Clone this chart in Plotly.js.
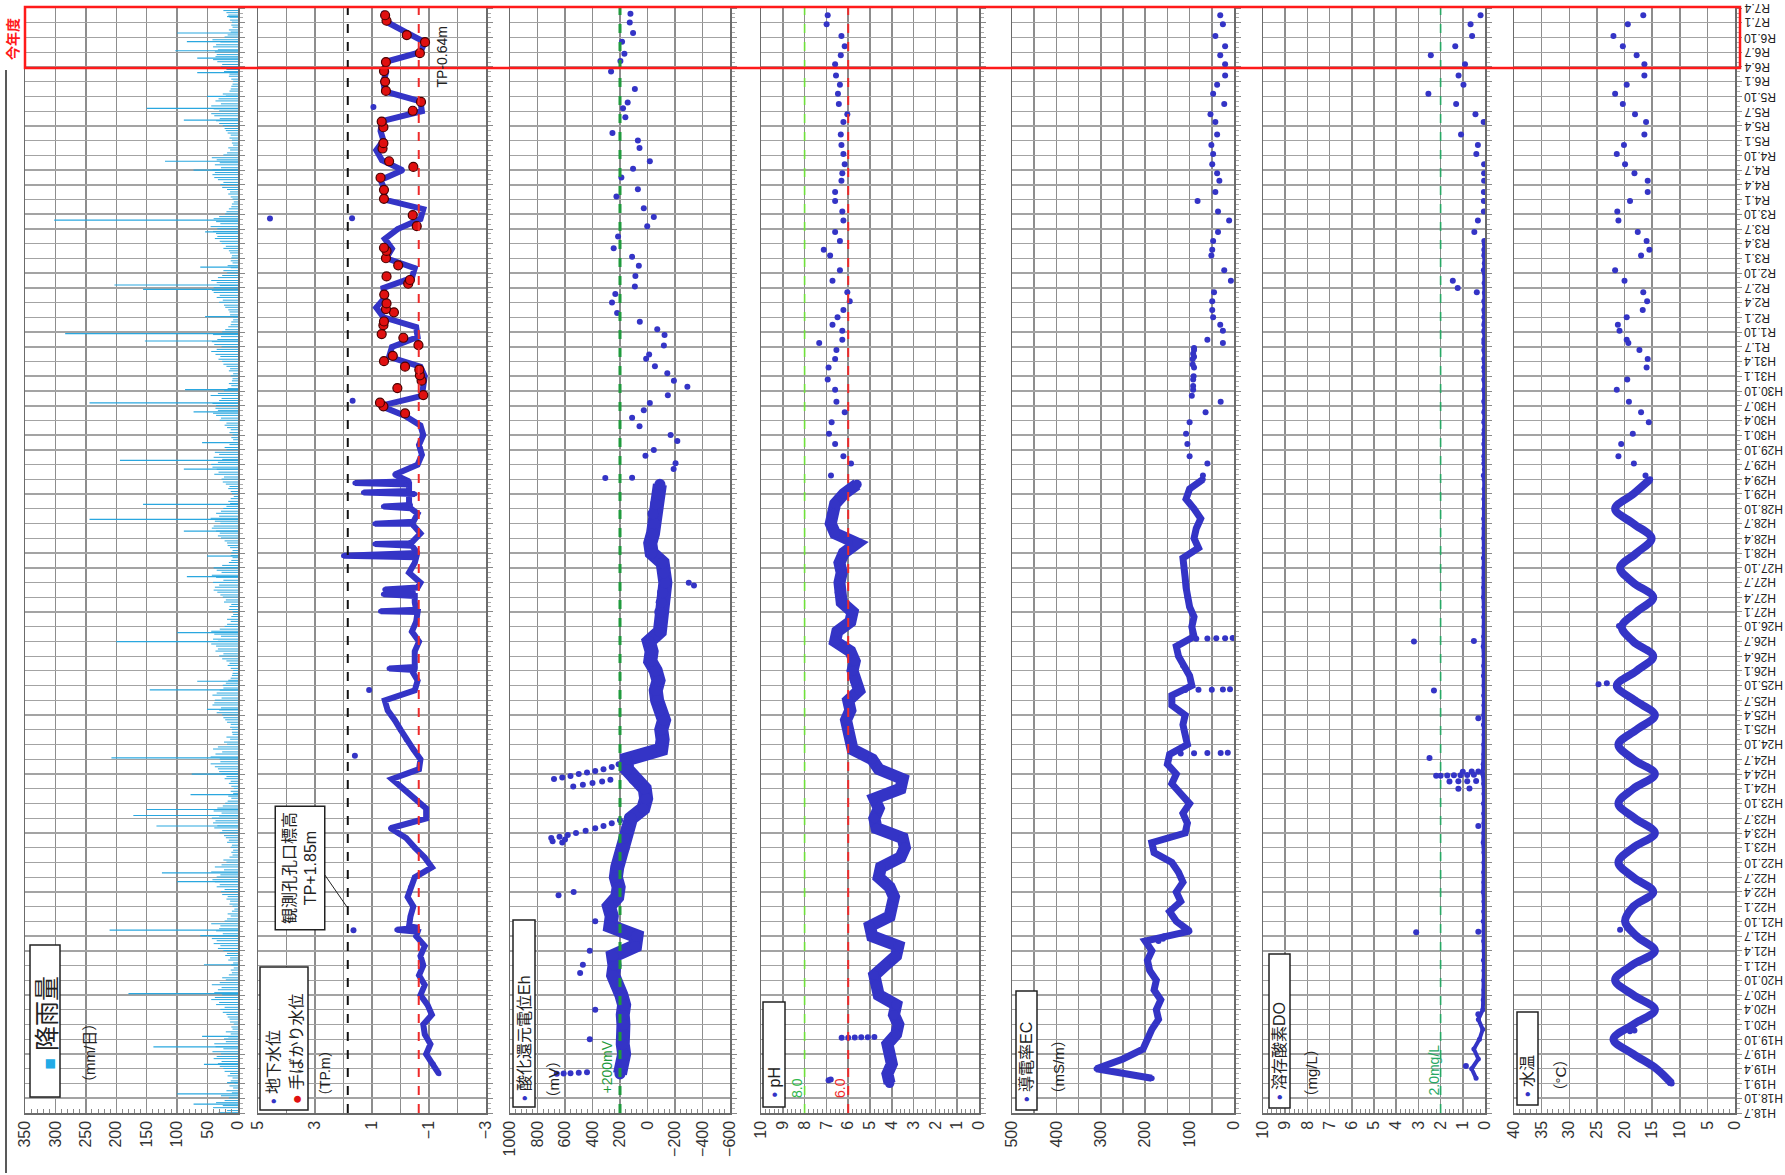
<!DOCTYPE html>
<html>
<head>
<meta charset="utf-8">
<script src="https://cdn.plot.ly/plotly-3.0.1.min.js"></script>
<style>
  html, body { margin: 0; padding: 0; background: #fff; }
  #chart { width: 1785px; height: 1175px; }
</style>
</head>
<body>
<div id="chart"></div>
<script>
// ---- time axis labels (every 3 months, H18.7 .. R7.4) ----
var timeLabels = [
  'H18.7','H18.10',
  'H19.1','H19.4','H19.7','H19.10','H20.1','H20.4','H20.7','H20.10',
  'H21.1','H21.4','H21.7','H21.10','H22.1','H22.4','H22.7','H22.10',
  'H23.1','H23.4','H23.7','H23.10','H24.1','H24.4','H24.7','H24.10',
  'H25.1','H25.4','H25.7','H25.10','H26.1','H26.4','H26.7','H26.10',
  'H27.1','H27.4','H27.7','H27.10','H28.1','H28.4','H28.7','H28.10',
  'H29.1','H29.4','H29.7','H29.10','H30.1','H30.4','H30.7','H30.10',
  'H31.1','H31.4','R1.7','R1.10',
  'R2.1','R2.4','R2.7','R2.10','R3.1','R3.4','R3.7','R3.10',
  'R4.1','R4.4','R4.7','R4.10','R5.1','R5.4','R5.7','R5.10',
  'R6.1','R6.4','R6.7','R6.10','R7.1','R7.4'
];

// ---- rainfall (mm/day): half-monthly background from 2006-07, and the big peaks ----
var rainBg = [
  32,18,41,25,36,22,15,28,10,19,8,14,6,12,9,17,13,22,24,30,33,27,40,35,
  28,42,24,37,39,20,23,16,12,20,9,11,7,13,14,17,19,25,29,22,36,31,44,38,
  26,39,33,27,43,30,20,26,15,10,12,7,11,8,16,13,21,18,24,33,29,40,35,43,
  40,25,36,31,29,44,22,18,12,17,10,6,9,14,13,19,17,26,28,22,35,30,38,42,
  35,29,44,23,38,27,19,24,14,9,11,8,12,10,18,15,20,23,30,26,39,34,41,37,
  43,31,27,40,34,25,21,17,11,16,8,12,7,11,15,12,22,19,27,31,33,38,45,29,
  30,45,37,26,41,33,18,23,13,19,9,10,10,13,12,18,21,24,26,35,31,28,42,39,
  38,27,42,35,30,24,25,20,16,12,10,9,8,12,17,14,19,26,31,24,37,33,36,44,
  33,41,28,39,44,30,22,18,12,18,11,8,9,15,14,11,23,20,25,29,34,40,38,31,
  41,24,36,43,27,35,20,26,15,11,9,12,11,9,13,17,18,22,28,33,30,36,43,40,
  29,38,45,31,36,28,24,19,13,16,12,7,10,12,16,14,20,25,27,23,39,32,35,42,
  44,33,26,40,31,38,19,22,14,10,8,11,9,14,12,18,22,19,30,28,36,41,33,37,
  36,42,31,27,45,33,23,17,11,15,10,9,12,8,15,13,19,24,26,32,29,37,44,35,
  27,39,43,34,28,41,26,21,16,12,11,8,8,13,14,16,21,23,31,25,35,30,40,43,
  40,30,35,44,33,26,18,24,12,17,9,12,11,10,13,15,24,20,27,30,38,34,36,41,
  34,45,29,36,40,31,21,19,15,11,10,7,9,12,16,13,18,26,29,24,33,39,42,38,
  42,28,38,30,35,43,24,18,13,16,8,10,10,14,12,17,20,22,25,31,36,30,39,44,
  31,40,44,28,37,32,20,25,14,12,11,9,8,11,15,14,23,19,28,26,34,41,37,35,
  38,33,41,36,29,42,22,17,12,15,9,11,10,13,14,16,19,24
];
var rainPeakDates = [
  '2006-08-25','2006-10-28','2007-01-05','2007-04-28','2007-08-15','2007-10-19','2008-07-10',
  '2009-01-05','2009-07-05','2009-08-07','2010-06-04','2010-07-28','2011-05-15','2011-07-19',
  '2011-08-25','2011-11-25','2012-04-01','2012-07-10','2013-05-07','2013-09-04','2013-10-28',
  '2014-07-01','2014-08-25','2015-08-07','2015-10-01','2015-12-13','2016-05-15','2016-07-28',
  '2016-10-28','2017-06-04','2017-07-28','2017-11-15','2018-05-25','2018-07-19','2018-10-10',
  '2019-08-07','2019-09-22','2020-01-05','2020-06-22','2020-07-19','2020-11-07','2021-06-13',
  '2021-08-25','2022-07-01','2022-08-25','2023-05-07','2023-07-19','2023-10-01','2024-02-25',
  '2024-05-25','2024-07-10','2024-09-04','2024-10-28','2025-02-07'
];
var rainPeaks = [
  73,100,18,56,139,59,180,
  56,62,211,100,125,134,172,
  150,78,76,208,51,145,67,
  200,100,84,40,51,89,244,
  156,89,194,59,73,244,87,
  153,284,54,156,203,62,54,
  302,73,120,89,150,51,67,
  67,103,84,100,18
];

// ---- groundwater level (TP.m), every 2 months from 2007-03 ----
var gwLevel = [
  -1.35,-1.15,-0.9,-1.05,-0.85,-0.8,-1.1,-0.95,-0.7,-0.85,
  -0.65,-0.8,-0.7,-0.85,-0.55,-0.3,-0.35,-0.45,-0.25,-0.35,
  -0.5,-1.1,-0.85,-0.5,-0.2,0.35,-0.9,-0.9,-0.5,-0.1,
  0.3,-0.65,-0.7,-0.45,-0.2,0.0,0.2,0.45,0.55,-0.5,
  -0.6,-0.4,-0.5,-0.5,-0.65,-0.4,-0.55,-0.6,-0.5,-0.45,
  -0.7,-0.3,-0.5,-0.6,-0.3,-0.7,-0.4,-0.6,-0.3,-0.5,
  -0.2,0.2,-0.6,-0.75,-0.65,-0.8,-0.7,-0.15,0.7,-0.75,
  -0.8,-0.85,-0.7,0.4,0.3,-0.6,-0.55,0.6,0.85,0.55,
  0.6,-0.4,-0.5,0.5,0.3,0.55,0.1,-0.7,-0.8,0.6,
  0.55,0.7,-0.07,0.65,0.85,0.6,0.7,0.65,-0.75,-0.7,
  0.55,0.6,0.5,0.55,-0.7,-0.85,-0.2,0.45,0.6
];
// short rises of the level between the regular readings
var gwRiseDates = [
  '2009-07-28','2009-08-10','2009-08-22',
  '2014-01-05','2014-01-15','2014-01-25',
  '2014-12-25','2015-01-05','2015-01-15',
  '2015-04-10','2015-04-20','2015-05-20','2015-06-01',
  '2015-12-05','2015-12-15','2015-12-25',
  '2016-02-15','2016-02-25','2016-03-07',
  '2016-06-20','2016-07-01','2016-07-12',
  '2016-10-05','2016-10-15','2016-10-25',
  '2016-12-30','2017-01-10','2017-01-20',
  '2017-02-28','2017-03-10','2017-03-20'
];
var gwRise = [
  -0.6,0.13,-0.6,
  -0.5,0.4,-0.5,
  -0.55,0.7,-0.55,
  -0.5,0.6,0.55,-0.6,
  -0.55,2.0,-0.55,
  -0.4,0.9,-0.4,
  -0.45,0.9,-0.45,
  -0.35,0.6,-0.35,
  -0.3,1.3,-0.3,
  -0.3,1.6,-0.3
];
var gwOddDates = ['2009-08-07','2012-07-24','2013-09-04','2018-08-01','2021-09-04','2021-09-06','2023-07-28'];
var gwOdd = [1.65,1.6,1.1,1.68,4.58,1.7,0.95];
// manual (hand) readings
var handDates = [
  '2018-05-15','2018-06-28','2018-07-21','2018-09-06','2018-10-19','2018-12-04','2019-01-06',
  '2019-02-10','2019-03-01','2019-04-04','2019-05-07','2019-07-13','2019-08-27','2019-09-19',
  '2019-11-13','2019-12-06','2020-02-01','2020-02-21','2020-03-27','2020-05-21','2020-07-27',
  '2020-08-19','2020-09-10','2020-11-18','2021-01-01','2021-02-15','2021-03-07','2021-07-19',
  '2021-09-25','2022-01-04','2022-03-01','2022-05-15','2022-07-21','2022-08-25','2022-11-12',
  '2022-12-15','2023-03-24','2023-04-28','2023-07-04','2023-08-28','2023-11-04','2024-01-01',
  '2024-03-06','2024-05-01','2024-06-25','2024-09-01','2024-10-15','2025-01-12','2025-02-15'
];
var handLevel = [
  -0.16,0.60,0.72,-0.80,0.11,-0.74,-0.68,
  -0.66,-0.16,0.58,0.27,-0.63,-0.10,0.66,
  0.60,0.58,0.23,0.51,0.49,0.57,-0.27,
  -0.33,0.49,0.08,0.51,0.49,0.58,-0.57,
  -0.43,0.58,0.58,0.70,-0.45,0.40,0.63,
  0.60,0.60,0.66,-0.43,-0.72,0.51,0.54,
  0.58,0.51,-0.68,-0.86,-0.22,0.49,0.54
];

// ---- oxidation-reduction potential Eh (mV), every 2 months from 2007-03 ----
var ehDense = [
  200,180,170,180,170,175,180,170,190,230,
  250,240,250,90,80,270,260,280,220,210,
  230,220,200,170,170,150,120,30,10,20,
  100,150,150,-100,-110,-100,-120,-90,-70,-60,
  -80,-60,-20,-30,-10,-90,-100,-90,-100,-110,
  -130,-120,-110,-30,-20,-40,-50,-40,-60,-80,
  -90
];
var ehOddDates = ['2007-03-01','2007-03-03','2007-03-05','2007-03-08','2007-03-10','2007-10-01','2008-04-01',
  '2008-11-15','2009-01-05','2009-04-01','2009-10-01','2010-03-12','2010-04-01','2015-06-13','2015-07-01',
  '2011-02-01','2011-02-10','2011-02-20','2011-03-01','2011-03-10','2011-03-20','2011-04-01','2011-04-15',
  '2011-05-01','2011-05-15','2011-06-01','2011-06-20','2011-07-05',
  '2012-01-15','2012-01-25','2012-02-05','2012-02-15','2012-02-25',
  '2012-03-01','2012-03-10','2012-03-20','2012-04-01','2012-04-10','2012-04-20','2012-05-01','2012-05-15','2012-06-01'];
var ehOdd = [660,610,560,500,440,420,380,490,470,420,380,647,537,-338,-300,
  620,690,600,700,640,580,520,450,380,320,260,200,150,
  540,470,400,330,270,
  680,620,560,500,440,380,320,260,210];
var ehSpotDates = [
  '2017-04-10','2017-04-12','2017-06-04','2017-07-10','2017-08-25','2017-10-01','2017-11-25',
  '2018-01-01','2018-02-25','2018-04-19','2018-06-04','2018-07-19','2018-09-04','2018-10-28',
  '2018-12-04','2019-01-19','2019-03-04','2019-04-19','2019-05-16','2019-07-10','2019-09-13',
  '2019-10-19','2019-12-04','2020-01-28','2020-04-01','2020-05-25','2020-07-10','2020-09-13',
  '2020-11-16','2021-01-10','2021-03-04','2021-05-16','2021-07-19','2021-09-13','2021-11-07',
  '2022-01-19','2022-03-04','2022-05-16','2022-07-10','2022-08-25','2022-11-16','2023-01-01',
  '2023-02-16','2023-05-25','2023-07-19','2023-08-25','2023-11-16','2024-03-04','2024-05-07',
  '2024-06-22','2024-09-04','2024-10-28','2025-01-01','2025-02-25'
];
var ehSpot = [
  307,112,-190,-204,15,-46,-217,
  -168,58,112,27,-17,-148,-290,
  -192,-144,-54,10,-12,-119,-124,
  -71,56,221,258,234,92,88,
  63,112,246,214,2,-46,27,
  226,70,190,105,-17,58,70,
  255,161,178,144,92,265,197,
  168,185,105,129,124
];

// ---- pH, every 2 months from 2007-01 ----
var phDense = [
  4.1,4.2,4.0,4.1,4.2,3.8,3.7,3.9,3.8,4.6,
  4.7,4.8,4.3,3.8,3.7,4.9,5.0,4.1,4.0,3.9,
  4.1,4.6,4.5,3.6,3.4,3.5,4.7,4.8,4.6,4.8,
  3.6,3.5,4.6,4.9,5.8,5.9,6.0,6.1,5.9,6.0,
  5.5,5.7,5.8,5.7,5.9,6.6,6.5,5.9,5.8,6.3,
  6.4,6.4,6.3,6.4,6.2,5.6,6.6,6.8,6.7,6.6,
  6.2,5.6
];
var phOddDates = ['2007-01-20','2007-01-25','2007-10-10','2007-10-11','2007-10-12','2007-10-13','2007-10-14','2007-10-15'];
var phOdd = [6.9,6.8,6.3,6.0,5.7,5.4,5.1,4.8];

// ---- electric conductivity EC (mS/m), every 2 months from 2007-02 ----
var ecDense = [
  185,310,250,205,195,185,170,175,165,180,
  175,190,195,185,200,100,130,145,120,130,
  115,125,140,180,185,110,105,115,100,120,
  140,130,150,145,105,110,115,110,140,140,
  95,100,115,125,130,90,95,90,100,105,
  108,110,112,115,80,90,85,75,90,108,
  100,70
];
var ecOddDates = ['2009-06-01','2009-06-15','2009-07-01',
  '2012-08-07','2012-08-08','2012-08-09','2012-08-10','2012-08-11',
  '2013-09-04','2013-09-05','2013-09-06','2013-09-07','2013-09-08',
  '2014-07-19','2014-07-20','2014-07-21','2014-07-22','2014-07-23',
  '2018-09-01','2018-11-01','2019-01-01','2019-03-15','2019-05-01','2019-05-20','2019-06-25'];
var ecOdd = [170,160,157, 120,90,60,30,14, 110,80,50,25,9, 85,60,40,20,3, 95,92,91,93,90,92,90];

// ---- dissolved oxygen DO (mg/L), every 2 months from 2007-02 ----
var doDense = [
  0.4,0.6,0.3,0.5,0.25,0.1,0.3,0.1,0.08,0.05,
  0.06,0.05,0.07,0.05,0.06,0.05,0.08,0.06,0.05,0.07,
  0.05,0.06,0.05,0.05,0.08,0.06,0.05,0.06,0.07,0.05,
  0.06,0.1,0.08,0.05,0.06,0.05,0.07,0.06,0.05,0.06,
  0.05,0.07,0.06,0.05,0.08,0.06,0.05,0.06,0.05,0.07,
  0.06,0.05,0.06,0.07,0.05,0.06,0.05,0.06,0.05,0.05,
  0.04,0.04,0.03,0.04,0.03,0.03,0.04,0.03,0.03,0.04,
  0.03,0.03,0.04,0.03,0.03,0.03,0.04,0.03,0.03,0.03,
  0.03,0.04,0.03,0.03,0.03,0.03
];
var doOddDates = ['2007-04-18','2008-03-04','2009-07-26','2009-07-28','2011-05-15',
  '2012-01-01','2012-01-02','2012-02-15','2012-02-16','2012-02-17','2012-02-18',
  '2012-03-21','2012-03-22','2012-03-23','2012-03-24','2012-03-25','2012-03-26','2012-03-27',
  '2012-04-15','2012-04-16','2012-04-17','2012-07-09','2013-03-12','2013-09-01',
  '2014-07-01','2014-07-05','2020-07-01'];
var doOdd = [0.86,0.3,3.1,0.3,0.3, 1.2,0.7, 1.6,1.2,0.8,0.4, 2.2,2.0,1.7,1.4,1.1,0.8,0.5,
  1.0,0.6,0.3, 2.5,0.3,2.3, 3.2,0.5,1.23];

// ---- water temperature (deg C), every 3 months from 2007-01 ----
var tempDense = [
  11.5,14.2,18.4,22.0,18.4,14.5,18.4,21.7,18.7,14.5,
  17.8,19.9,18.4,14.8,18.4,21.1,18.4,14.5,18.1,21.1,
  18.4,14.5,18.4,21.1,17.8,14.5,18.1,21.4,17.8,14.8,
  18.4,20.5,17.8,14.8,18.4,20.8,17.8,15.1,18.4,21.7,
  18.4,15.4
];
var tempOddDates = ['2007-11-20','2007-11-25','2009-08-10','2009-08-20','2013-10-10','2013-10-15','2014-10-05'];
var tempOdd = [19.0,18.2,20.8,19.5,24.7,23.2,21.0];

// ---- spot sampling after the logger period (shared visit dates) ----
var visitDates = [
  '2017-04-26','2017-07-09','2017-08-23','2017-11-07','2018-01-09','2018-03-21','2018-05-23',
  '2018-07-26','2018-10-09','2018-12-12','2019-02-23','2019-04-18','2019-06-12','2019-07-26',
  '2019-08-15','2019-10-09','2019-11-15','2020-01-01','2020-02-15','2020-04-09','2020-06-04',
  '2020-08-15','2020-10-18','2021-01-18','2021-02-23','2021-04-18','2021-06-12','2021-08-23',
  '2021-10-18','2021-12-21','2022-02-15','2022-04-26','2022-06-12','2022-08-07','2022-10-09',
  '2022-12-04','2023-02-07','2023-04-26','2023-06-12','2023-08-15','2023-10-18','2023-12-12',
  '2024-02-07','2024-04-18','2024-06-12','2024-08-07','2024-10-09','2024-12-21','2025-02-15'
];
var phSpot = [
  6.79,5.87,6.22,6.6,6.88,6.76,6.16,6.54,6.6,6.94,
  6.9,6.6,6.54,7.33,6.27,6.27,6.72,6.49,6.22,5.93,
  6.04,6.72,6.38,6.83,7.12,6.38,6.6,6.22,6.27,6.6,
  6.6,6.31,6.27,6.16,6.22,6.31,6.34,6.22,6.04,6.43,
  6.47,6.38,6.56,6.6,6.34,6.16,6.31,6.99,6.94
];
var ecSpot = [
  70,60,100,105,108,100,64,30,92,92,
  90,93,90,25,60,25,31,47,49,49,
  45,7,22,51,49,47,36,11,36,82,
  42,33,38,49,47,51,38,42,53,22,
  47,38,20,20,31,20,42,25,31
];
var doSpot = [
  0.05,0.03,0.03,0.03,0.03,0.03,0.03,0.03,0.03,0.03,
  0.03,0.03,0.03,0.03,0.03,0.03,0.03,0.03,0.03,0.03,
  0.37,1.45,0.05,0.03,0.03,0.03,0.48,0.32,0.05,0.05,
  0.05,0.04,0.04,0.04,0.39,0.32,1.08,0.06,0.43,1.3,
  2.55,0.97,1.19,0.9,2.44,1.34,0.58,0.65,0.2
];
var tempSpot = [
  16.2,18.3,21.1,20.6,18.5,15.6,17.0,19.2,21.4,19.5,
  16.0,15.8,17.3,19.3,19.6,20.9,21.2,19.6,16.7,15.9,
  16.6,20.0,21.7,17.0,15.5,16.0,17.6,21.1,21.3,19.0,
  15.8,15.8,18.2,19.9,21.4,20.1,16.4,16.1,18.1,20.3,
  21.7,19.6,16.4,16.4,17.8,20.3,22.0,19.4,16.6
];

// reference levels
var wellTop = 1.85, gwRef = -0.64, ehRef = 200, phHi = 8.0, phLo = 6.0, doRef = 2.0;

// ---------------------------------------------------------------
var W = 1785, H = 1175;
function px(v) { return v / W; }
function py(v) { return 1 - v / H; }
function pad(n) { return (n < 10 ? '0' : '') + n; }
// dates every `step` months starting at y0-m0
function monthSeq(y0, m0, step, n) {
  var out = [];
  for (var i = 0; i < n; i++) {
    var t = (m0 - 1) + i * step;
    out.push((y0 + Math.floor(t / 12)) + '-' + pad(t % 12 + 1) + '-01');
  }
  return out;
}
// half-monthly dates for the rainfall background
function halfMonthSeq(y0, m0, n) {
  var out = [];
  for (var i = 0; i < n; i++) {
    var t = (m0 - 1) + Math.floor(i / 2);
    out.push((y0 + Math.floor(t / 12)) + '-' + pad(t % 12 + 1) + (i % 2 ? '-16' : '-03'));
  }
  return out;
}
// horizontal strokes from zero to value at each date
function strokes(dates, vals) {
  var x = [], y = [];
  for (var i = 0; i < dates.length; i++) {
    x.push(0, vals[i], null);
    y.push(dates[i], dates[i], null);
  }
  return { x: x, y: y };
}
// merge two dated series into one, in time order
function merge(d1, v1, d2, v2) {
  var rows = [];
  d1.forEach(function (d, i) { rows.push([d, v1[i]]); });
  d2.forEach(function (d, i) { rows.push([d, v2[i]]); });
  rows.sort(function (a, b) { return a[0] < b[0] ? -1 : a[0] > b[0] ? 1 : 0; });
  return { d: rows.map(function (r) { return r[0]; }), v: rows.map(function (r) { return r[1]; }) };
}

var BLUE = '#3434c6';
var yDomain = [py(1113), py(8)];
var tickDates = monthSeq(2006, 7, 3, timeLabels.length);

var rb = strokes(halfMonthSeq(2006, 7, rainBg.length), rainBg);
var rp = strokes(rainPeakDates, rainPeaks);
var gw = merge(monthSeq(2007, 3, 2, gwLevel.length), gwLevel, gwRiseDates, gwRise);

function dense(ax, dates, vals, width, shape) {
  return { x: vals, y: dates, xaxis: 'x' + ax, yaxis: 'y' + ax, type: 'scatter', mode: 'lines+markers',
    line: { color: BLUE, width: width, shape: shape || 'linear' },
    marker: { color: BLUE, size: Math.max(5, width * 0.8) }, hoverinfo: 'skip' };
}
function dots(ax, dates, vals, size) {
  return { x: vals, y: dates, xaxis: 'x' + ax, yaxis: 'y' + ax, type: 'scatter', mode: 'markers',
    marker: { color: BLUE, size: size || 6 }, hoverinfo: 'skip' };
}

var data = [
  { x: rb.x, y: rb.y, xaxis: 'x', yaxis: 'y', type: 'scatter', mode: 'lines',
    line: { color: '#2aa7df', width: 1 }, hoverinfo: 'skip' },
  { x: rp.x, y: rp.y, xaxis: 'x', yaxis: 'y', type: 'scatter', mode: 'lines',
    line: { color: '#2aa7df', width: 1.2 }, hoverinfo: 'skip' },

  dense('2', gw.d, gw.v, 6),
  dots('2', gwOddDates, gwOdd, 6),
  { x: handLevel, y: handDates, xaxis: 'x2', yaxis: 'y2', type: 'scatter', mode: 'markers',
    marker: { color: '#e01010', size: 9, line: { color: '#4a0000', width: 1.2 } }, hoverinfo: 'skip' },

  dense('3', monthSeq(2007, 3, 2, ehDense.length), ehDense, 14),
  dots('3', ehOddDates, ehOdd, 6),
  dots('3', ehSpotDates, ehSpot, 6),

  dense('4', monthSeq(2007, 1, 2, phDense.length), phDense, 12),
  dots('4', phOddDates, phOdd, 6),
  dots('4', visitDates, phSpot, 6),

  dense('5', monthSeq(2007, 2, 2, ecDense.length), ecDense, 7),
  dots('5', ecOddDates, ecOdd, 6),
  dots('5', visitDates, ecSpot, 6),

  dense('6', monthSeq(2007, 2, 2, doDense.length), doDense, 4),
  dots('6', doOddDates, doOdd, 6),
  dots('6', visitDates, doSpot, 6),

  dense('7', monthSeq(2007, 1, 3, tempDense.length), tempDense, 8, 'spline'),
  dots('7', tempOddDates, tempOdd, 6),
  dots('7', visitDates, tempSpot, 6)
];

// panel geometry (pixels) and value axes
var panels = [
  { dom: [25, 238],    range: [350, 0],     dtick: 50,  minor: 10 },
  { dom: [258, 486],   range: [5, -3],      dtick: 2,   tick0: 1, minor: 1, minorGrid: true },
  { dom: [510, 730],   range: [1000, -600], dtick: 200, minor: 40 },
  { dom: [761, 979],   range: [10, 0],      dtick: 1,   minor: 0.2 },
  { dom: [1012, 1234], range: [500, 0],     dtick: 100, minor: 50, minorGrid: true },
  { dom: [1263, 1485], range: [10, 0],      dtick: 1,   minor: 0.2 },
  { dom: [1514, 1735], range: [40, 0],      dtick: 5,   minor: 1 }
];

var layout = {
  width: W, height: H,
  margin: { l: 0, r: 0, t: 0, b: 0 },
  paper_bgcolor: '#fff', plot_bgcolor: '#fff',
  showlegend: false,
  font: { family: 'Liberation Sans, "Noto Sans CJK JP", sans-serif', color: '#222' },
  shapes: [], annotations: []
};

panels.forEach(function (p, i) {
  var n = i === 0 ? '' : String(i + 1);
  layout['xaxis' + n] = {
    domain: [px(p.dom[0]), px(p.dom[1])], anchor: 'y' + n, range: p.range, autorange: false,
    tickmode: 'linear', dtick: p.dtick, tick0: p.tick0 || 0,
    tickangle: -90, tickfont: { size: 16, color: '#333' }, ticks: '',
    showgrid: true, gridcolor: '#8d8d8d', gridwidth: 1.5, zeroline: false,
    showline: true, linecolor: '#6b6b6b', linewidth: 1.5, mirror: true,
    minor: { dtick: p.minor, ticks: 'inside', ticklen: 4, tickcolor: '#888',
      showgrid: !!p.minorGrid, gridcolor: '#8d8d8d', gridwidth: 1.5 }
  };
  var ya = {
    domain: yDomain, anchor: 'x' + n, type: 'date',
    tickmode: 'linear', tick0: '2006-07-01', dtick: 'M3', showticklabels: false,
    ticks: 'outside', ticklen: 5, tickcolor: '#888', side: 'right',
    showgrid: true, gridcolor: '#a3a3a3', gridwidth: 1.4, zeroline: false,
    showline: true, linecolor: '#6b6b6b', linewidth: 1.5, mirror: true,
    minor: { dtick: 'M1', ticks: 'outside', ticklen: 3, tickcolor: '#aaa', showgrid: false }
  };
  if (i === 0) ya.range = ['2006-07-01', '2025-04-01'];
  else ya.matches = 'y';
  layout['yaxis' + n] = ya;
});

// reference lines
function vline(ax, v, color, width, dash) {
  layout.shapes.push({ type: 'line', xref: 'x' + ax, yref: 'paper', x0: v, x1: v,
    y0: yDomain[0], y1: yDomain[1], line: { color: color, width: width, dash: dash } });
}
vline('2', wellTop, '#111', 2, 'dash');
vline('2', gwRef, '#ee2b2b', 2, 'dash');
vline('3', ehRef, '#1f9a3c', 3, 'dash');
vline('4', phHi, '#6fe03a', 1.6, 'dash');
vline('4', phLo, '#ee2b2b', 2, 'dash');
vline('6', doRef, '#27a864', 1.6, 'dash');

// time labels (upside down, right of the last panel)
timeLabels.forEach(function (t, i) {
  layout.annotations.push({ xref: 'paper', yref: 'y', x: px(1742), y: tickDates[i], text: t,
    textangle: 180, xanchor: 'left', yanchor: 'middle', showarrow: false,
    font: { size: 12, color: '#222' } });
});

// legend boxes drawn as rotated text
function box(x0, x1, y0, y1) {
  layout.shapes.push({ type: 'rect', xref: 'paper', yref: 'paper', x0: px(x0), x1: px(x1),
    y0: py(y1), y1: py(y0), line: { color: '#222', width: 1.5 }, fillcolor: '#fff', layer: 'above' });
}
function vtext(x, yBottom, text, size, color) {
  layout.annotations.push({ xref: 'paper', yref: 'paper', x: px(x), y: py(yBottom), text: text,
    textangle: -90, xanchor: 'center', yanchor: 'bottom', showarrow: false,
    font: { size: size, color: color || '#222' } });
}
var dot = '<span style="color:' + BLUE + '">•</span> ';

box(30, 60, 945, 1097);
vtext(46, 1072, '<span style="color:#22aae6;font-size:19px">■</span> 降雨量', 25);
vtext(89, 1092, '（mm/日）', 15);

box(260, 308, 967, 1110);
vtext(273, 1106, dot + '地下水位', 16);
vtext(296, 1106, '<span style="color:#e01010">●</span> 手ばかり水位', 16);
vtext(325, 1105, '（TP.m）', 14);
layout.annotations.push({ xref: 'paper', yref: 'paper', x: px(299.5), y: py(868),
  text: '観測孔孔口標高<br>TP+1.85m', textangle: -90, xanchor: 'center', yanchor: 'middle',
  showarrow: false, font: { size: 16, color: '#222' }, bgcolor: '#fff',
  bordercolor: '#222', borderwidth: 1.5, borderpad: 5 });
layout.shapes.push({ type: 'line', xref: 'paper', yref: 'paper', x0: px(320), y0: py(868),
  x1: px(347), y1: py(907), line: { color: '#222', width: 1 } });
vtext(441, 90, 'TP-0.64m', 14);

box(513, 535, 920, 1107);
vtext(524, 1103, dot + '酸化還元電位Eh', 16);
vtext(553, 1108, '（mV）', 15);
vtext(606, 1096, '+200mV', 14, '#1f9a3c');

box(763, 785, 1002, 1107);
vtext(774, 1100, dot + 'pH', 16);
vtext(797, 1100, '8.0', 14, '#2fb84a');
vtext(840, 1100, '6.0', 14, '#ee2b2b');

box(1016, 1037, 991, 1110);
vtext(1026, 1104, dot + '導電率EC', 16);
vtext(1058, 1104, '（mS/m）', 15);

box(1269, 1290, 954, 1108);
vtext(1279, 1102, dot + '溶存酸素DO', 16);
vtext(1311, 1107, '（mg/L）', 15);
vtext(1433, 1098, '2.0mg/L', 14, '#27a864');

box(1517, 1538, 1012, 1105);
vtext(1527, 1099, dot + '水温', 16);
vtext(1560, 1101, '（°C）', 15);

// current fiscal year frame
layout.shapes.push({ type: 'rect', xref: 'paper', yref: 'paper', x0: px(25), x1: px(1740),
  y0: py(68), y1: py(7), line: { color: '#ff1a1a', width: 2.5 }, fillcolor: 'rgba(0,0,0,0)', layer: 'above' });
vtext(13, 62, '<b>今年度</b>', 14, '#ff1a1a');
// page frame line on the left
layout.shapes.push({ type: 'line', xref: 'paper', yref: 'paper', x0: px(6), x1: px(6),
  y0: py(1173), y1: py(70), line: { color: '#222', width: 1.5 } });

Plotly.newPlot('chart', data, layout, { staticPlot: true, displayModeBar: false });
</script>
</body>
</html>
